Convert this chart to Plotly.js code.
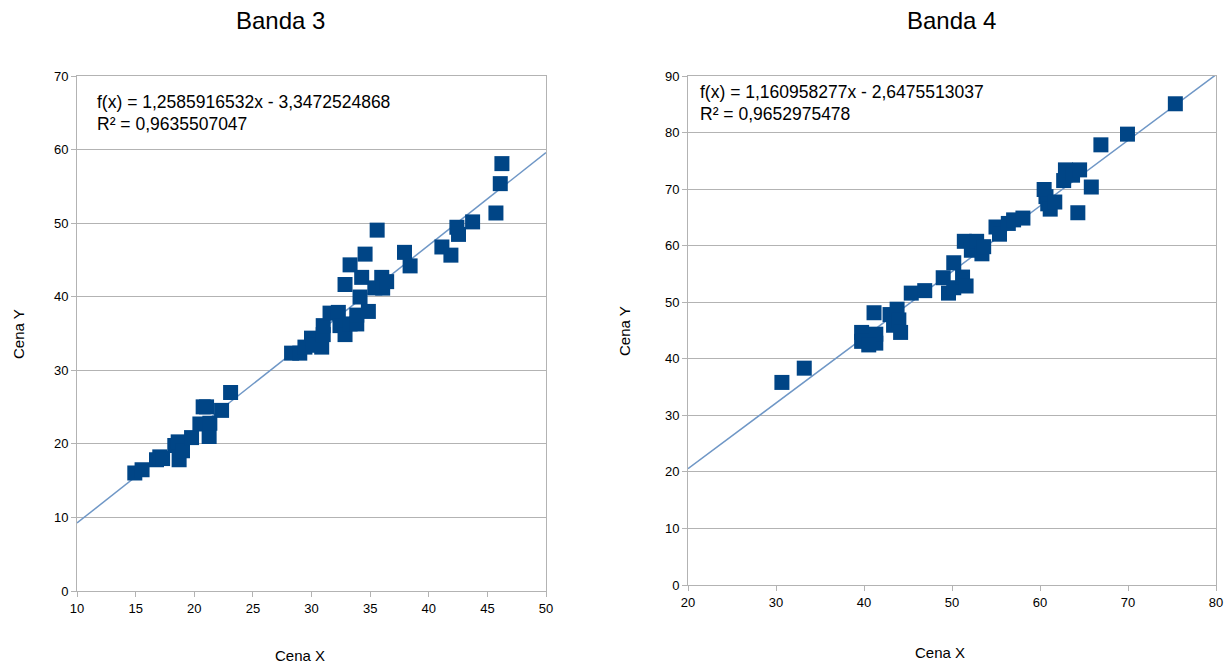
<!DOCTYPE html>
<html>
<head>
<meta charset="utf-8">
<script src="https://cdn.plot.ly/plotly-3.0.1.min.js"></script>
<style>html,body{margin:0;padding:0;background:#fff;}#chart{width:1226px;height:665px;}</style>
</head>
<body>
<div id="chart"></div>
<script>
// Banda 3 data
const b3x = [14.93,15.55,16.78,17.06,17.3,18.34,18.71,18.63,19.0,19.77,20.48,20.76,21.05,21.27,21.33,22.33,23.1,
  28.3,29.0,29.44,30.0,30.15,30.87,31.0,31.0,31.58,32.29,32.43,32.86,32.86,33.29,33.29,33.86,33.86,34.14,34.28,34.57,34.85,
  35.6,35.4,35.99,36.07,36.41,37.93,38.41,41.12,41.89,42.4,42.54,43.74,45.73,46.1,46.24];
const b3y = [16.04,16.48,17.84,18.23,18.0,19.78,17.84,20.27,19.06,20.85,22.7,25.03,25.03,21.0,22.8,24.55,26.98,
  32.33,32.33,33.15,34.37,33.4,33.15,34.85,36.07,37.77,37.87,36.07,34.85,41.66,44.33,36.3,36.3,37.5,39.96,42.63,45.79,38.0,
  49.05,41.2,42.63,41.17,42.05,46.03,44.19,46.76,45.65,49.44,48.47,50.17,51.38,55.37,58.09];
const b3slope = 1.2585916532, b3icpt = -3.3472524868;
const b3eq = "f(x) = 1,2585916532x - 3,3472524868";
const b3r2 = "R² = 0,9635507047";

// Banda 4 data
const b4x = [30.67,33.21,39.73,39.73,41.14,41.34,41.34,40.54,42.96,43.36,43.76,43.96,44.16,45.37,46.9,49.0,49.6,50.2,50.2,51.2,51.6,
  51.4,52.2,52.8,53.4,53.6,55.0,55.4,56.4,57.0,58.06,60.47,60.68,60.88,61.16,61.68,62.69,62.89,63.7,64.5,64.3,65.83,66.92,69.94,75.38];
const b4y = [35.82,38.34,44.66,43.08,48.14,42.77,44.35,42.45,47.82,45.93,48.77,46.87,44.66,51.61,52.05,54.33,51.61,56.98,52.56,54.45,52.87,
  60.77,59.19,60.77,58.56,59.82,63.3,62.03,63.93,64.56,64.88,69.93,68.67,67.4,66.46,67.72,71.51,73.4,72.46,73.4,65.82,70.37,77.83,79.72,85.09];
const b4slope = 1.160958277, b4icpt = -2.6475513037;
const b4eq = "f(x) = 1,160958277x - 2,6475513037";
const b4r2 = "R² = 0,9652975478";

const titles = ["Banda 3", "Banda 4"];
const xTitle = "Cena X", yTitle = "Cena Y";
const b3xr = [10, 50], b3yr = [0, 70];
const b4xr = [20, 80], b4yr = [0, 90];

const mcol = '#004586', lcol = '#6f97c6';
const W = 1226, H = 665;
const px = v => v / W, py = v => 1 - v / H;

const traces = [
  {x: b3xr, y: b3xr.map(v => b3slope * v + b3icpt), mode: 'lines', line: {color: lcol, width: 1.5}, xaxis: 'x', yaxis: 'y', hoverinfo: 'skip'},
  {x: b3x, y: b3y, mode: 'markers', marker: {symbol: 'square', size: 15, color: mcol}, xaxis: 'x', yaxis: 'y'},
  {x: b4xr, y: b4xr.map(v => b4slope * v + b4icpt), mode: 'lines', line: {color: lcol, width: 1.5}, xaxis: 'x2', yaxis: 'y2', hoverinfo: 'skip'},
  {x: b4x, y: b4y, mode: 'markers', marker: {symbol: 'square', size: 15, color: mcol}, xaxis: 'x2', yaxis: 'y2'}
];

const font = 'Liberation Sans, Arial, sans-serif';
const axBase = {
  showgrid: false, zeroline: false, showline: true, mirror: true, linecolor: '#b3b3b3', linewidth: 1,
  ticks: 'outside', ticklen: 5, tickcolor: '#b3b3b3', tickfont: {family: font, size: 13, color: '#000'}
};
const yBase = Object.assign({}, axBase, {showgrid: true, gridcolor: '#b3b3b3', gridwidth: 1});

function ann(text, x, y, size, opts) {
  return Object.assign({text: text, x: px(x), y: py(y), xref: 'paper', yref: 'paper', showarrow: false,
    xanchor: 'center', yanchor: 'middle', font: {size: size, family: font, color: '#000'}}, opts || {});
}

const layout = {
  width: W, height: H, margin: {l: 0, r: 0, t: 0, b: 0}, showlegend: false,
  paper_bgcolor: '#fff', plot_bgcolor: '#fff',
  font: {family: font, color: '#000'},
  xaxis: Object.assign({}, axBase, {domain: [px(77), px(546)], range: b3xr, dtick: 5, anchor: 'y'}),
  yaxis: Object.assign({}, yBase, {domain: [py(591), py(76)], range: b3yr, dtick: 10, anchor: 'x'}),
  xaxis2: Object.assign({}, axBase, {domain: [px(688), px(1216)], range: b4xr, dtick: 10, anchor: 'y2'}),
  yaxis2: Object.assign({}, yBase, {domain: [py(585), py(76)], range: b4yr, dtick: 10, anchor: 'x2'}),
  annotations: [
    ann(titles[0], 280, 21, 24),
    ann(titles[1], 951, 21, 24),
    ann(xTitle, 300, 655, 15),
    ann(xTitle, 940, 652, 15),
    ann(yTitle, 18, 334, 15, {textangle: -90}),
    ann(yTitle, 624, 331, 15, {textangle: -90}),
    ann(b3eq, 95, 102, 17.5, {xanchor: 'left'}),
    ann(b3r2, 95, 124, 17.5, {xanchor: 'left'}),
    ann(b4eq, 698, 92, 17.5, {xanchor: 'left'}),
    ann(b4r2, 698, 114, 17.5, {xanchor: 'left'})
  ]
};

Plotly.newPlot('chart', traces, layout, {displayModeBar: false, staticPlot: true});
</script>
</body>
</html>
